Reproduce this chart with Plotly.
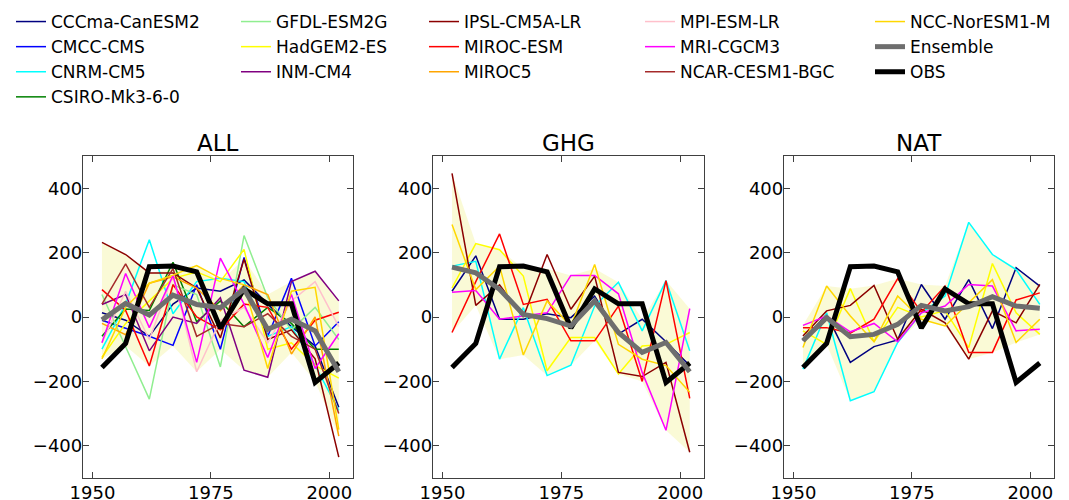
import plotly.graph_objects as go

YEARS = [1952, 1957, 1962, 1967, 1972, 1977, 1982, 1987, 1992, 1997, 2002]
PANELS = ["ALL", "GHG", "NAT"]
X_TICKS = [1950, 1975, 2000]
Y_TICKS = [-400, -200, 0, 200, 400]

MODELS = ["CCCma-CanESM2", "CMCC-CMS", "CNRM-CM5", "CSIRO-Mk3-6-0", "GFDL-ESM2G",
          "HadGEM2-ES", "INM-CM4", "IPSL-CM5A-LR", "MIROC-ESM", "MIROC5",
          "MPI-ESM-LR", "MRI-CGCM3", "NCAR-CESM1-BGC", "NCC-NorESM1-M"]

ALL_RUNS = {
    "CCCma-CanESM2": [13, -10, -60, 40, 90, 80, 115, 40, -30, -90, -280],
    "CMCC-CMS": [-10, -35, -60, -88, 100, -100, 185, -60, 120, -90, -15],
    "CNRM-CM5": [-100, 40, 240, 10, 110, 120, 110, -60, -30, -150, -290],
    "CSIRO-Mk3-6-0": [-60, 25, 20, 170, -15, 50, -30, 30, -20, -100, -100],
    "GFDL-ESM2G": [70, -90, -255, 100, 70, -155, 253, 60, -40, 30, -70],
    "HadGEM2-ES": [-125, -20, 50, 120, 140, 110, 210, -100, -80, -150, -190],
    "INM-CM4": [39, 70, -105, 0, -20, 60, -165, -187, 110, 142, 50],
    "IPSL-CM5A-LR": [232, 194, 137, 137, 90, -65, 180, -70, -40, -130, -435],
    "MIROC-ESM": [85, 20, -152, 100, 0, -40, 40, 30, -100, -10, 15],
    "MIROC5": [-20, -55, 105, 125, 90, 20, 100, 70, -115, 0, -370],
    "MPI-ESM-LR": [-80, 80, -70, 130, -170, -10, 30, -80, 50, 110, -30],
    "MRI-CGCM3": [-80, 135, -33, 129, -141, 183, 40, -126, 70, -160, -52],
    "NCAR-CESM1-BGC": [40, 165, 30, 150, -60, -20, -30, 10, -60, -100, -300],
    "NCC-NorESM1-M": [-130, 30, 105, 130, 160, 120, 100, -160, 80, 92, -350],
}
GHG_RUNS = {
    "CCCma-CanESM2": [80, 190, -7, -7, 10, -2, 65, -53, -7, -77, -151],
    "CNRM-CM5": [158, 173, -131, 29, -182, -150, 34, 108, -43, 113, -105],
    "HadGEM2-ES": [90, 228, 209, 127, -167, -64, -64, -177, -90, -85, -48],
    "IPSL-CM5A-LR": [446, 36, 100, 0, 194, 24, 127, -172, -185, -141, -420],
    "MIROC-ESM": [-48, 110, 258, 39, 55, -74, -74, 34, -200, 113, -253],
    "MRI-CGCM3": [77, 82, -7, 3, 13, 129, 129, 72, -172, -352, 26],
    "NCC-NorESM1-M": [287, 85, 158, -118, 50, -28, 163, -85, -131, -151, -234],
}
NAT_RUNS = {
    "CCCma-CanESM2": [-74, 8, -141, -92, -71, 101, -7, 116, -36, 153, 96],
    "CNRM-CM5": [-162, 13, -260, -232, -79, 13, 65, 294, 194, 147, 39],
    "HadGEM2-ES": [-43, -85, 88, -77, 30, 0, 20, -95, 166, 13, -54],
    "IPSL-CM5A-LR": [-59, 19, 36, 98, -69, 24, -18, -131, 19, -18, 101],
    "MIROC-ESM": [-33, -33, -50, -7, 119, 15, 96, -110, -110, 53, 75],
    "MRI-CGCM3": [-26, 3, -46, -20, -77, 13, 34, 101, 96, -43, -38],
    "NCC-NorESM1-M": [-95, 96, 3, -77, 65, -7, -28, 44, 116, -79, -7],
}

ENS_ALL = [-9, 42, 6, 68, 39, 29, 86, -38, -7, -43, -170]
ENS_GHG = [155, 137, 86, 8, -5, -28, 50, -48, -110, -79, -170]
ENS_NAT = [-74, -2, -61, -54, -23, 36, 19, 32, 63, 34, 27]
OBS = [-157, -82, 156, 158, 140, -34, 87, 41, 41, -203, -143]

ALL_LO = [-130, -90, -152, -90, -170, -100, -165, -187, -110, -200, -370]
ALL_HI = [232, 194, 137, 150, 160, 110, 180, 70, 110, 142, 50]
GHG_LO = [-48, 36, -131, -118, -182, -150, -74, -177, -200, -352, -420]
GHG_HI = [446, 228, 210, 150, 150, 129, 150, 108, -7, 113, 26]
NAT_LO = [-162, -85, -260, -232, -79, -7, -28, -131, -110, -79, -54]
NAT_HI = [-26, 96, 88, 98, 119, 101, 96, 294, 194, 153, 101]

COLORS = {
    "CCCma-CanESM2": "#000080", "CMCC-CMS": "#0000FF", "CNRM-CM5": "#00FFFF",
    "CSIRO-Mk3-6-0": "#008000", "GFDL-ESM2G": "#90EE90", "HadGEM2-ES": "#FFFF00",
    "INM-CM4": "#800080", "IPSL-CM5A-LR": "#8B0000", "MIROC-ESM": "#FF0000",
    "MIROC5": "#FFA500", "MPI-ESM-LR": "#FFC0CB", "MRI-CGCM3": "#FF00FF",
    "NCAR-CESM1-BGC": "#A52A2A", "NCC-NorESM1-M": "#FFD700",
}
LEGEND_OF = {
    "CCCma-CanESM2": "legend", "CMCC-CMS": "legend", "CNRM-CM5": "legend", "CSIRO-Mk3-6-0": "legend",
    "GFDL-ESM2G": "legend2", "HadGEM2-ES": "legend2", "INM-CM4": "legend2",
    "IPSL-CM5A-LR": "legend3", "MIROC-ESM": "legend3", "MIROC5": "legend3",
    "MPI-ESM-LR": "legend4", "MRI-CGCM3": "legend4", "NCAR-CESM1-BGC": "legend4",
    "NCC-NorESM1-M": "legend5",
}

FONT = "DejaVu Sans"
W, H = 1069, 500
OFF = 8  # page body offset
X_DOMAINS = [((83 - OFF) / W, (353 - OFF) / W),
             ((433 - OFF) / W, (704 - OFF) / W),
             ((784 - OFF) / W, (1054 - OFF) / W)]
Y_DOMAIN = (1 - (478 - OFF) / H, 1 - (156 - OFF) / H)

fig = go.Figure()
panel_data = [
    (ALL_RUNS, ENS_ALL, ALL_LO, ALL_HI),
    (GHG_RUNS, ENS_GHG, GHG_LO, GHG_HI),
    (NAT_RUNS, ENS_NAT, NAT_LO, NAT_HI),
]
for i, (runs, ens, lo, hi) in enumerate(panel_data):
    xa = "x" if i == 0 else f"x{i+1}"
    ya = "y" if i == 0 else f"y{i+1}"
    fig.add_trace(go.Scatter(
        x=YEARS + YEARS[::-1], y=hi + lo[::-1], fill="toself",
        fillcolor="rgba(250,250,210,0.9)", line=dict(width=0), mode="lines",
        showlegend=False, hoverinfo="skip", xaxis=xa, yaxis=ya))
    for m in MODELS:
        if m not in runs:
            continue
        fig.add_trace(go.Scatter(
            x=YEARS, y=runs[m], mode="lines", name=m,
            line=dict(color=COLORS[m], width=1.5),
            showlegend=(i == 0), legend=LEGEND_OF[m], legendrank=MODELS.index(m) + 1,
            xaxis=xa, yaxis=ya))
    fig.add_trace(go.Scatter(
        x=YEARS, y=OBS, mode="lines", name="OBS",
        line=dict(color="black", width=5),
        showlegend=(i == 0), legend="legend5", legendrank=30,
        xaxis=xa, yaxis=ya))
    fig.add_trace(go.Scatter(
        x=YEARS, y=ens, mode="lines", name="Ensemble",
        line=dict(color="#6E6E6E", width=5),
        showlegend=(i == 0), legend="legend5", legendrank=20,
        xaxis=xa, yaxis=ya))

axis_common = dict(
    showline=True, linecolor="#404040", linewidth=1.3, mirror="allticks",
    ticks="inside", ticklen=6, tickcolor="#404040", tickwidth=1,
    showgrid=False, zeroline=False, automargin=False,
    tickfont=dict(family=FONT, size=18, color="black"),
)
layout = dict(
    template="none",
    width=W, height=H, margin=dict(l=0, r=0, t=0, b=0, pad=0, autoexpand=False),
    paper_bgcolor="white", plot_bgcolor="white",
    font=dict(family=FONT, size=17, color="black"),
)
annotations = []
for i, name in enumerate(PANELS):
    sfx = "" if i == 0 else str(i + 1)
    layout["xaxis" + sfx] = dict(axis_common, domain=list(X_DOMAINS[i]), range=[1948, 2005],
                                 tickvals=X_TICKS, anchor="y" + sfx, ticklabelstandoff=-2)
    layout["yaxis" + sfx] = dict(axis_common, domain=list(Y_DOMAIN), range=[-500, 500],
                                 tickvals=Y_TICKS, anchor="x" + sfx, ticklabelstandoff=-4)
    annotations.append(dict(
        text=name, x=(X_DOMAINS[i][0] + X_DOMAINS[i][1]) / 2, y=1 - (143 - OFF) / H,
        xref="paper", yref="paper", xanchor="center", yanchor="middle",
        showarrow=False, font=dict(family=FONT, size=23, color="black")))
layout["annotations"] = annotations

legend_x = [3, 228, 416, 632, 862]
for j, lx in enumerate(legend_x):
    key = "legend" if j == 0 else f"legend{j+1}"
    layout[key] = dict(x=lx / W, y=1 + 4 / H, xanchor="left", yanchor="top",
                       bgcolor="rgba(0,0,0,0)", borderwidth=0,
                       font=dict(family=FONT, size=17, color="black"),
                       tracegroupgap=0, itemwidth=30)

fig.update_layout(**layout)
fig.write_html("out.html")
